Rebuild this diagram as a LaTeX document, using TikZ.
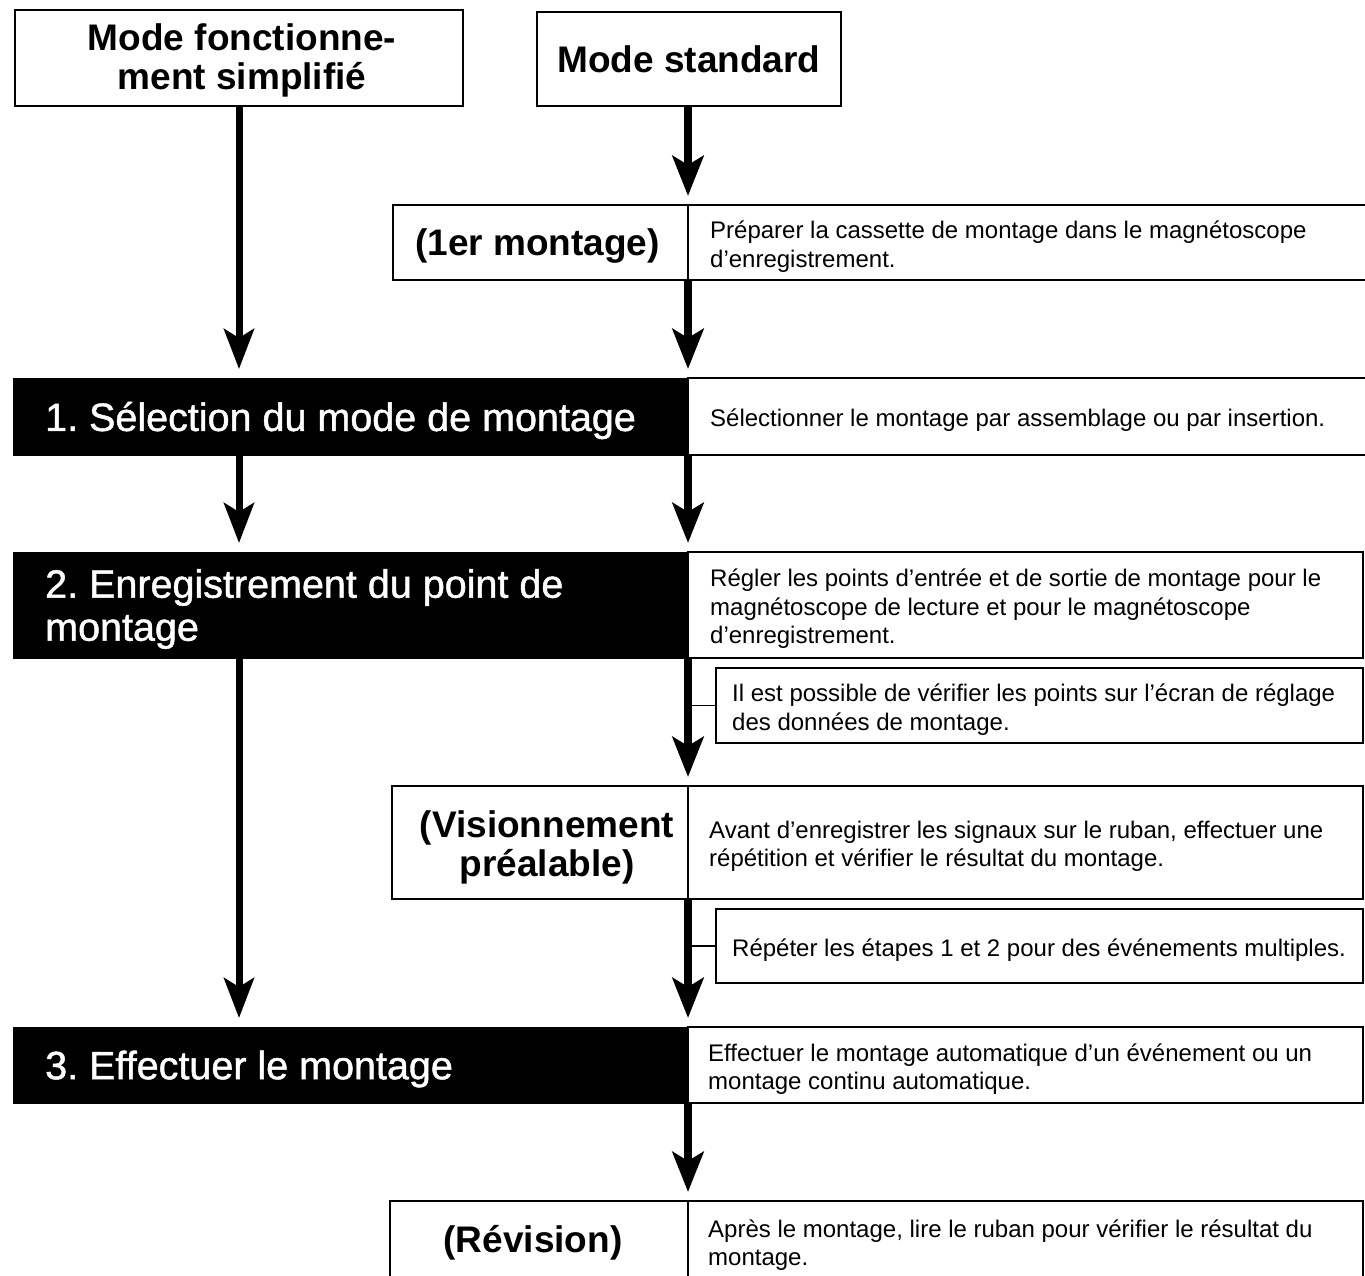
\documentclass[tikz,border=0pt]{standalone}
\usepackage{fontspec}
\setmainfont{Liberation Sans}
\newfontfamily\barfont{Liberation Sans}[FakeBold=1.2]
\usetikzlibrary{arrows.meta}
\frenchspacing
\begin{document}
\begin{tikzpicture}[x=1pt,y=-1pt,
  cell/.style={draw=black, line width=1.6pt, anchor=north west, inner sep=0pt, outer sep=0pt},
  bar/.style={fill=black, draw=black, anchor=north west, inner sep=0pt, outer sep=0pt},
  big/.style={font=\bfseries\fontsize{37}{39}\selectfont, align=center, inner sep=0pt},
  bartxt/.style={text=white, font=\barfont\fontsize{39.5}{43}\selectfont, align=left, anchor=west, inner sep=0pt, yshift=-4pt},
  small/.style={font=\fontsize{24}{28.5}\selectfont, align=left, anchor=west, inner sep=0pt, yshift=-4pt},
  arrL/.style={line width=7pt, -{Stealth[length=40pt,width=30pt,inset=9pt]}, shorten >=9pt},
  arrR/.style={line width=8.5pt, -{Stealth[length=40pt,width=31pt,inset=9pt]}, shorten >=9pt},
  link/.style={line width=1.5pt}
]
\useasboundingbox (0,0) rectangle (1365,1275);
\fill[white] (0,0) rectangle (1365,1275);

% top boxes
\node[cell, minimum width=448pt, minimum height=96pt] (A) at (15,10) {};
\node[big] (tA) at ([xshift=3pt,yshift=-2pt]A.center) {Mode fonctionne-\\ment simplifié};
\node[cell, minimum width=304pt, minimum height=94pt] (B) at (537,12) {};
\node[big] (tB) at (B.center) {Mode standard};

% row 0
\node[cell, minimum width=295pt, minimum height=75pt] (r0L) at (393,205) {};
\node[big] (tr0L) at ([xshift=-3pt,yshift=-4pt]r0L.center) {(1er montage)};
\node[cell, minimum width=680pt, minimum height=75pt] (r0R) at (688,205) {};
\node[small] (t0) at ([xshift=22pt]r0R.west) {Préparer la cassette de montage dans le magnétoscope\\d’enregistrement.};

% bar 1
\node[bar, minimum width=675pt, minimum height=77pt] (b1) at (13,378) {};
\node[bartxt] (bt1) at ([xshift=32pt]b1.west) {1. Sélection du mode de montage};
\node[cell, minimum width=680pt, minimum height=77pt] (r1R) at (688,378) {};
\node[small] (t1) at ([xshift=22pt]r1R.west) {Sélectionner le montage par assemblage ou par insertion.};

% bar 2
\node[bar, minimum width=675pt, minimum height=106pt] (b2) at (13,552) {};
\node[bartxt] (bt2) at ([xshift=32pt]b2.west) {2. Enregistrement du point de\\montage};
\node[cell, minimum width=675pt, minimum height=106pt] (r2R) at (688,552) {};
\node[small] (t2) at ([xshift=22pt]r2R.west) {Régler les points d’entrée et de sortie de montage pour le\\magnétoscope de lecture et pour le magnétoscope\\d’enregistrement.};

% note 1
\node[cell, minimum width=647pt, minimum height=75pt] (n1) at (716,668) {};
\node[small] (tn1) at ([xshift=16pt]n1.west) {Il est possible de vérifier les points sur l’écran de réglage\\des données de montage.};

% visionnement
\node[cell, minimum width=296pt, minimum height=113pt] (vL) at (392,786) {};
\node[big] (tvL) at ([xshift=7pt,yshift=-5pt]vL.center) {(Visionnement\\préalable)};
\node[cell, minimum width=675pt, minimum height=113pt] (vR) at (688,786) {};
\node[small] (tv) at ([xshift=21pt]vR.west) {Avant d’enregistrer les signaux sur le ruban, effectuer une\\répétition et vérifier le résultat du montage.};

% note 2
\node[cell, minimum width=647pt, minimum height=74pt] (n2) at (716,909) {};
\node[small] (tn2) at ([xshift=16pt]n2.west) {Répéter les étapes 1 et 2 pour des événements multiples.};

% bar 3
\node[bar, minimum width=675pt, minimum height=76pt] (b3) at (13,1027) {};
\node[bartxt] (bt3) at ([xshift=32pt]b3.west) {3. Effectuer le montage};
\node[cell, minimum width=675pt, minimum height=76pt] (r3R) at (688,1027) {};
\node[small] (t3) at ([xshift=20pt]r3R.west) {Effectuer le montage automatique d’un événement ou un\\montage continu automatique.};

% revision
\node[cell, minimum width=298pt, minimum height=80pt] (rvL) at (390,1201) {};
\node[big] (trvL) at ([xshift=-6pt,yshift=-2pt]rvL.center) {(Révision)};
\node[cell, minimum width=675pt, minimum height=80pt] (rvR) at (688,1201) {};
\node[small] (trv) at ([xshift=20pt]rvR.west) {Après le montage, lire le ruban pour vérifier le résultat du\\montage.};

% left column arrows
\draw[arrL] (A.south) -- (A.south |- b1.north);
\draw[arrL] (A.south |- b1.south) -- (A.south |- b2.north);
\draw[arrL] (A.south |- b2.south) -- (A.south |- b3.north);

% right column arrows
\draw[arrR] (B.south -| r0L.east) -- (r0L.north east);
\draw[arrR] (r0L.south east) -- (b1.north east);
\draw[arrR] (b1.south east) -- (b2.north east);
\draw[arrR] (b2.south east) -- (vL.north east);
\draw[arrR] (vL.south east) -- (b3.north east);
\draw[arrR] (b3.south east) -- (rvL.north east);

% note links
\draw[link] (n1.west) -- (n1.west -| b2.east);
\draw[link] (n2.west) -- (n2.west -| b2.east);
\end{tikzpicture}
\end{document}
